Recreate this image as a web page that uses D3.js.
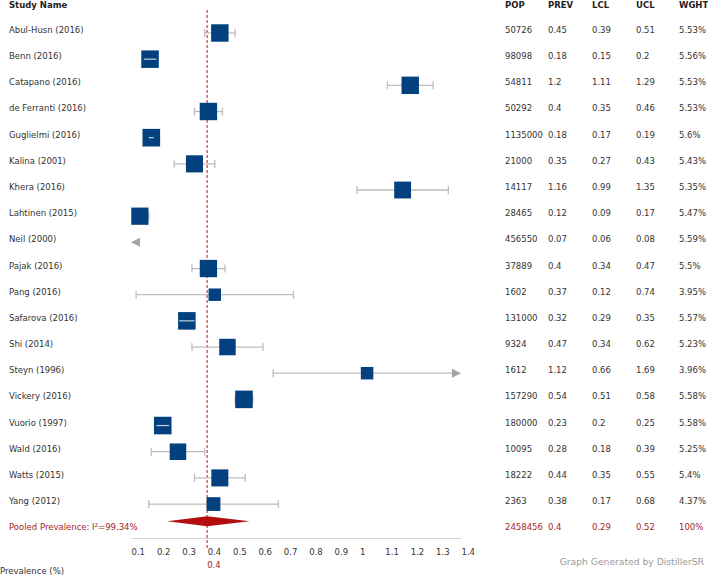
<!DOCTYPE html>
<html>
<head>
<meta charset="utf-8">
<script src="https://cdn.jsdelivr.net/npm/d3@7"></script>
<style>
  body { margin: 0; background: #fff; }
  svg { display: block; }
  text { font-family: "DejaVu Sans", Verdana, sans-serif; }
</style>
</head>
<body>
<svg id="chart" width="708" height="579"></svg>
<script>
// ---- Data ----
const studies = ["Abul-Husn (2016)", "Benn (2016)", "Catapano (2016)", "de Ferranti (2016)", "Guglielmi (2016)",
  "Kalina (2001)", "Khera (2016)", "Lahtinen (2015)", "Neil (2000)", "Pajak (2016)", "Pang (2016)",
  "Safarova (2016)", "Shi (2014)", "Steyn (1996)", "Vickery (2016)", "Vuorio (1997)", "Wald (2016)",
  "Watts (2015)", "Yang (2012)"];
const pop  = [50726, 98098, 54811, 50292, 1135000, 21000, 14117, 28465, 456550, 37889, 1602, 131000, 9324, 1612, 157290, 180000, 10095, 18222, 2363];
const prev = [0.45, 0.18, 1.2, 0.4, 0.18, 0.35, 1.16, 0.12, 0.07, 0.4, 0.37, 0.32, 0.47, 1.12, 0.54, 0.23, 0.28, 0.44, 0.38];
const lcl  = [0.39, 0.15, 1.11, 0.35, 0.17, 0.27, 0.99, 0.09, 0.06, 0.34, 0.12, 0.29, 0.34, 0.66, 0.51, 0.2, 0.18, 0.35, 0.17];
const ucl  = [0.51, 0.2, 1.29, 0.46, 0.19, 0.43, 1.35, 0.17, 0.08, 0.47, 0.74, 0.35, 0.62, 1.69, 0.58, 0.25, 0.39, 0.55, 0.68];
const wght = [5.53, 5.56, 5.53, 5.53, 5.6, 5.43, 5.35, 5.47, 5.59, 5.5, 3.95, 5.57, 5.23, 3.96, 5.58, 5.58, 5.25, 5.4, 4.37];
const pooled = { label: "Pooled Prevalence: I\u00B2=99.34%", pop: 2458456, prev: 0.4, lcl: 0.29, ucl: 0.52, wght: "100%" };
const tickValues = [0.1, 0.2, 0.3, 0.4, 0.5, 0.6, 0.7, 0.8, 0.9, 1, 1.1, 1.2, 1.3, 1.4];
const headers = ["POP", "PREV", "LCL", "UCL", "WGHT"];

// ---- Layout ----
const svg = d3.select("#chart");
const FS = 8.5;
const xDomain = [0.1, 1.4];
const x = d3.scaleLinear().domain(xDomain).range([131, 461]);
const rowY = d3.scaleLinear().domain([0, 1]).range([30, 56.17]); // row index -> text center
const colX = [505, 548, 592, 636, 679];
const boxColor = "#02417d", whiskColor = "#bdbdbd", arrowColor = "#a3a3a3", redText = "#a3252b";

// header
svg.append("text").attr("x", 9).attr("y", 5).attr("dy", "0.35em")
  .attr("font-size", FS).attr("font-weight", "bold").attr("fill", "#222").text("Study Name");
headers.forEach((h, j) => {
  svg.append("text").attr("x", colX[j]).attr("y", 5).attr("dy", "0.35em")
    .attr("font-size", FS).attr("font-weight", "bold").attr("fill", "#222").text(h);
});

// reference dashed line at pooled prevalence
svg.append("line").attr("x1", x(pooled.prev)).attr("x2", x(pooled.prev))
  .attr("y1", 10).attr("y2", 548)
  .attr("stroke", "#cf5a55").attr("stroke-width", 1.4).attr("stroke-dasharray", "3,2");

// axis
const axisY = 538;
const axis = d3.axisBottom(x).tickValues(tickValues).tickSize(0).tickPadding(11)
  .tickFormat(d => d3.format("~g")(d));
const gAxis = svg.append("g").attr("transform", `translate(0,${axisY})`).call(axis);
gAxis.select(".domain").attr("stroke", "#d4d4d4");
gAxis.selectAll("text").attr("text-anchor", "start").attr("font-size", FS)
  .attr("fill", "#333").attr("font-family", "DejaVu Sans, sans-serif");
svg.append("text").attr("x", x(pooled.prev)).attr("y", 565).attr("dy", "0.35em")
  .attr("font-size", FS).attr("fill", redText).text(d3.format("~g")(pooled.prev));
svg.append("text").attr("x", 0).attr("y", 571).attr("dy", "0.35em")
  .attr("font-size", FS).attr("fill", "#333").text("Prevalence (%)");

// rows
const [dMin, dMax] = xDomain;
studies.forEach((name, i) => {
  const ty = rowY(i);
  const my = ty + 3;
  svg.append("text").attr("x", 9).attr("y", ty).attr("dy", "0.35em")
    .attr("font-size", FS).attr("fill", "#333").text(name);
  const vals = [pop[i], prev[i], lcl[i], ucl[i], wght[i] + "%"];
  vals.forEach((v, j) => {
    svg.append("text").attr("x", colX[j]).attr("y", ty).attr("dy", "0.35em")
      .attr("font-size", FS).attr("fill", "#333").text(v);
  });

  const g = svg.append("g");
  const lo = Math.max(lcl[i], dMin), hi = Math.min(ucl[i], dMax);
  const size = wght[i] * 3.15;
  if (hi < dMin || lo > dMax) {
    // entirely outside the axis: arrow only
    if (ucl[i] < dMin) {
      g.append("path").attr("d", d3.line()([[x(dMin), my], [x(dMin) + 9, my - 4.5], [x(dMin) + 9, my + 4.5]]))
        .attr("fill", arrowColor);
    } else {
      g.append("path").attr("d", d3.line()([[x(dMax), my], [x(dMax) - 9, my - 4.5], [x(dMax) - 9, my + 4.5]]))
        .attr("fill", arrowColor);
    }
    return;
  }
  // the marker sits at the centre of the visible interval
  const cx = x((lo + hi) / 2);
  const x1 = x(lo), x2 = x(hi);
  const contained = x1 >= cx - size / 2 && x2 <= cx + size / 2;
  if (!contained) {
    const lineEnd = ucl[i] > dMax ? x2 - 9 : x2;
    const lineStart = lcl[i] < dMin ? x1 + 9 : x1;
    g.append("line").attr("x1", lineStart).attr("x2", lineEnd).attr("y1", my).attr("y2", my)
      .attr("stroke", whiskColor).attr("stroke-width", 1.3);
    if (lcl[i] >= dMin) g.append("line").attr("x1", x1).attr("x2", x1).attr("y1", my - 4).attr("y2", my + 4)
      .attr("stroke", whiskColor).attr("stroke-width", 1.3);
    else g.append("path").attr("d", d3.line()([[x1, my], [x1 + 9, my - 4.5], [x1 + 9, my + 4.5]])).attr("fill", arrowColor);
    if (ucl[i] <= dMax) g.append("line").attr("x1", x2).attr("x2", x2).attr("y1", my - 4).attr("y2", my + 4)
      .attr("stroke", whiskColor).attr("stroke-width", 1.3);
    else g.append("path").attr("d", d3.line()([[x2, my], [x2 - 9, my - 4.5], [x2 - 9, my + 4.5]])).attr("fill", arrowColor);
  }
  g.append("rect").attr("x", cx - size / 2).attr("y", my - size / 2)
    .attr("width", size).attr("height", size).attr("fill", boxColor);
  if (contained) {
    g.append("line").attr("x1", x1).attr("x2", x2).attr("y1", my).attr("y2", my)
      .attr("stroke", "#c9d3e0").attr("stroke-width", 1.2);
  }
});

// pooled row
const py = rowY(studies.length);
svg.append("text").attr("x", 9).attr("y", py).attr("dy", "0.35em")
  .attr("font-size", FS).attr("fill", redText).text(pooled.label);
[pooled.pop, pooled.prev, pooled.lcl, pooled.ucl, pooled.wght].forEach((v, j) => {
  svg.append("text").attr("x", colX[j]).attr("y", py).attr("dy", "0.35em")
    .attr("font-size", FS).attr("fill", redText).text(v);
});
const dy = py - 6, tip = 12;
svg.append("path")
  .attr("d", d3.line()([[x(pooled.lcl) - tip, dy], [x(pooled.prev), dy - 5], [x(pooled.ucl) + tip, dy], [x(pooled.prev), dy + 5]]) + "Z")
  .attr("fill", "#b30d10");

// footer
svg.append("text").attr("x", 704).attr("y", 562).attr("dy", "0.35em").attr("text-anchor", "end")
  .attr("font-size", 9.2).attr("fill", "#9a9a9a").text("Graph Generated by DistillerSR");
</script>
</body>
</html>
